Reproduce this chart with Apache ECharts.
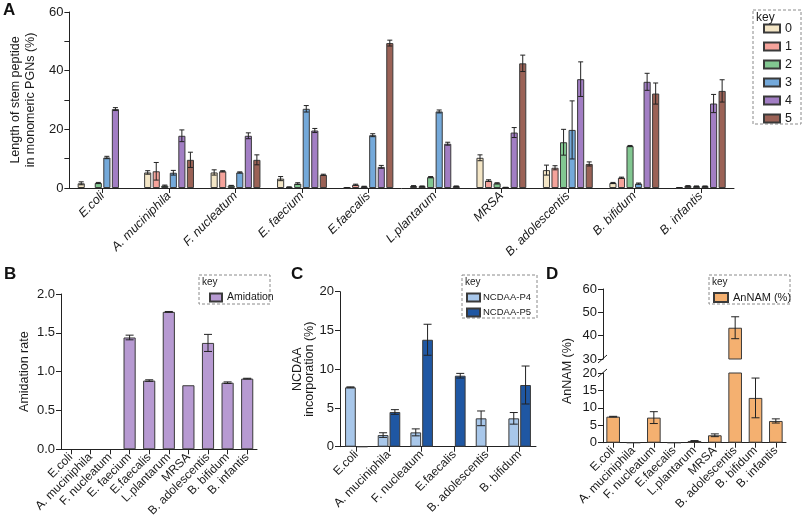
<!DOCTYPE html>
<html><head><meta charset="utf-8">
<script src="https://cdn.jsdelivr.net/npm/echarts@6/dist/echarts.min.js"></script>
<style>html,body{margin:0;padding:0;background:#fff}#c{width:803px;height:522px}</style>
</head><body><div id="c"></div><script>
// ---------- Panel A data ----------
const speciesA = ['E.coli','A. muciniphila','F. nucleatum','E. faecium','E.faecalis','L.plantarum','MRSA','B. adolescentis','B. bifidum','B. infantis'];
const lengthKeys = ['0','1','2','3','4','5'];
const len0 = [1.6,5.3,5.3,3.2,0.1,0.7,10.3,6.1,1.7,0.1];
const len0Err = [0.5,0.6,0.9,0.7,0.05,0.1,1.0,1.7,0.2,0.05];
const len1 = [null,5.7,5.7,0.3,1.1,0.6,2.5,6.9,3.5,0.7];
const len1Err = [0,3.0,0.2,0.1,0.2,0.1,0.3,0.7,0.2,0.1];
const len2 = [1.7,0.8,0.8,1.5,0.5,3.7,1.6,15.6,14.3,0.6];
const len2Err = [0.2,0.2,0.1,0.3,0.1,0.2,0.2,4.4,0.2,0.1];
const len3 = [10.4,5.2,5.3,27.0,18.0,26.1,0.2,19.8,1.5,0.6];
const len3Err = [0.4,0.8,0.2,1.1,0.5,0.5,0.05,9.9,0.2,0.1];
const len4 = [26.9,17.8,17.8,19.6,7.2,15.1,18.9,37.1,36.2,28.8];
const len4Err = [0.5,2.0,1.0,0.7,0.5,0.5,1.7,5.9,2.9,3.1];
const len5 = [null,9.6,9.6,4.5,49.4,0.6,42.5,8.2,32.2,33.1];
const len5Err = [0,2.6,1.7,0.2,1.0,0.1,2.8,0.7,3.6,3.8];
const lenTicks = [0,20,40,60];

// ---------- Panel B data ----------
const amidation = [null,null,null,1.44,0.885,1.77,0.825,1.37,0.858,0.91];
const amidationErr = [0,0,0,0.03,0.01,0.005,0,0.11,0.01,0.005];

// ---------- Panel C data ----------
const speciesC = ['E.coli','A. muciniphila','F. nucleatum','E.faecalis','B. adolescentis','B. bifidum'];
const ncdaaP4 = [7.66,1.5,1.85,null,3.66,3.66];
const ncdaaP4Err = [0.06,0.3,0.45,0,0.95,0.75];
const ncdaaP5 = [0,4.48,13.8,9.16,null,7.96];
const ncdaaP5Err = [0,0.3,2.0,0.3,0,2.45];

// ---------- Panel D data ----------
const speciesD = ['E.coli','A. muciniphila','F. nucleatum','E.faecalis','L.plantarum','MRSA','B. adolescentis','B. bifidum','B. infantis'];
const anNAM = [7.47,0,7.2,0,0.5,2.13,43.4,12.85,6.24];
const anNAMErr = [0.1,0,1.7,0,0.1,0.4,4.7,5.7,0.6];
const breakLow = 20, breakHigh = 30;

const lenVals = [len0,len1,len2,len3,len4,len5];
const lenErrs = [len0Err,len1Err,len2Err,len3Err,len4Err,len5Err];
const lenColors = ['#F4E6C6','#F5A39B','#82C791','#74A9DA','#A27EC4','#9B6256'];

const FONT = 'Arial, "Liberation Sans", sans-serif';
const TXT = '#1a1a1a';
const BORDER = '#3a3a3a';

function errSeries(xi, yi, vals, errs, idx, n, catGap, barGap, capW) {
  const data = [];
  vals.forEach((v,i)=>{ if (v!=null && errs[i]) data.push([i, v, errs[i]]); });
  return {
    type:'custom', xAxisIndex:xi, yAxisIndex:yi, z:5, silent:true, clip:true,
    encode:{x:0,y:1}, data,
    renderItem(params, api){
      const i=api.value(0), v=api.value(1), e=api.value(2);
      const band=api.size([1,0])[0];
      const gw=band*(1-catGap); const w=gw/(n+(n-1)*barGap);
      const cx=api.coord([i,v])[0] - gw/2 + idx*w*(1+barGap) + w/2;
      const yH=api.coord([i,v+e])[1], yL=api.coord([i,Math.max(v-e,0)])[1];
      const st={stroke:'#222', lineWidth:1};
      return {type:'group', children:[
        {type:'line', shape:{x1:cx,y1:yH,x2:cx,y2:yL}, style:st},
        {type:'line', shape:{x1:cx-capW/2,y1:yH,x2:cx+capW/2,y2:yH}, style:st},
        {type:'line', shape:{x1:cx-capW/2,y1:yL,x2:cx+capW/2,y2:yL}, style:st}
      ]};
    }
  };
}

function valAxis(gi, min, max, interval, extra) {
  return Object.assign({
    type:'value', gridIndex:gi, min, max, interval,
    axisLine:{show:true, lineStyle:{color:'#222', width:1}},
    axisTick:{show:true, length:5, lineStyle:{color:'#222'}},
    splitLine:{show:false},
    axisLabel:{fontSize:13, color:TXT, fontFamily:FONT, margin:6},
    nameTextStyle:{fontSize:12, color:TXT, fontFamily:FONT}
  }, extra||{});
}
function catAxis(gi, data, extra) {
  return Object.assign({
    type:'category', gridIndex:gi, data,
    axisLine:{show:true, lineStyle:{color:'#222', width:1}},
    axisTick:{show:true, alignWithLabel:true, length:5, lineStyle:{color:'#222'}},
    axisLabel:{interval:0, rotate:45, fontSize:12, color:TXT, fontFamily:FONT, margin:6}
  }, extra||{});
}

const series = [];
// Panel A
lengthKeys.forEach((k,i)=>{
  series.push({type:'bar', name:k, xAxisIndex:0, yAxisIndex:0, data:lenVals[i],
    barGap:'20%', barCategoryGap:'25%',
    itemStyle:{color:lenColors[i], borderColor:BORDER, borderWidth:1}});
});
lengthKeys.forEach((k,i)=>{
  series.push(errSeries(0,0,lenVals[i],lenErrs[i],i,6,0.25,0.2,5));
});
// Panel B
series.push({type:'bar', name:'Amidation', xAxisIndex:1, yAxisIndex:1, data:amidation,
  barCategoryGap:'38%', itemStyle:{color:'#B79AD2', borderColor:BORDER, borderWidth:1}});
series.push(errSeries(1,1,amidation,amidationErr,0,1,0.38,0,8));
// Panel C
series.push({type:'bar', name:'NCDAA-P4', xAxisIndex:2, yAxisIndex:2, data:ncdaaP4,
  barGap:'10%', barCategoryGap:'31%', itemStyle:{color:'#A8C7EA', borderColor:BORDER, borderWidth:1}});
series.push({type:'bar', name:'NCDAA-P5', xAxisIndex:2, yAxisIndex:2, data:ncdaaP5,
  barGap:'10%', barCategoryGap:'31%', itemStyle:{color:'#1F57A3', borderColor:BORDER, borderWidth:1}});
series.push(errSeries(2,2,ncdaaP4,ncdaaP4Err,0,2,0.31,0.1,8));
series.push(errSeries(2,2,ncdaaP5,ncdaaP5Err,1,2,0.31,0.1,8));
// Panel D (broken axis: upper grid 3, lower grid 4)
const anUpper = anNAM.map(v => v > breakHigh ? v : null);
const anLower = anNAM.slice();
series.push({type:'bar', name:'AnNAM (%)', xAxisIndex:3, yAxisIndex:3, data:anUpper, clip:true,
  barCategoryGap:'33%', itemStyle:{color:'#F4B070', borderColor:BORDER, borderWidth:1}});
series.push({type:'bar', name:'AnNAM (%)', xAxisIndex:4, yAxisIndex:4, data:anLower, clip:true,
  barCategoryGap:'33%', itemStyle:{color:'#F4B070', borderColor:BORDER, borderWidth:1}});
series.push(errSeries(3,3,anUpper,anNAMErr,0,1,0.33,0,8));
series.push(errSeries(4,4,anNAM.map(v=>v<=breakLow?v:null),anNAMErr,0,1,0.33,0,8));

function keyBox(x,y,w,h,fs){
  return [
    {type:'rect', shape:{x,y,width:w,height:h}, style:{fill:'none', stroke:'#8a8a8a', lineWidth:1, lineDash:[3,2]}},
    {type:'text', x:x+3, y:y+2, style:{text:'key', fontSize:fs, fill:TXT, fontFamily:FONT}}
  ];
}
function letter(t,x,y){
  return {type:'text', x, y, style:{text:t, fontSize:17, fontWeight:'bold', fill:'#111', fontFamily:FONT}};
}

const option = {
  animation:false,
  backgroundColor:'#fff',
  textStyle:{fontFamily:FONT},
  grid:[
    {left:64, top:12, width:670, height:176},
    {left:61, top:294, width:196, height:155.3},
    {left:340, top:291.7, width:196, height:155},
    {left:603, top:289, width:183, height:70},
    {left:603, top:373, width:183, height:69.7}
  ],
  xAxis:[
    catAxis(0, speciesA, {axisLabel:{interval:0, rotate:45, fontSize:12.5, fontStyle:'italic', color:TXT, fontFamily:FONT, margin:6}}),
    catAxis(1, speciesA),
    catAxis(2, speciesC),
    catAxis(3, speciesD, {show:false}),
    catAxis(4, speciesD)
  ],
  yAxis:[
    valAxis(0, 0, 60, 10, {
      axisLabel:{fontSize:13, color:TXT, fontFamily:FONT, margin:6, formatter:v=>lenTicks.indexOf(v)>=0?String(v):''},
      name:'Length of stem peptide\nin monomeric PGNs (%)', nameLocation:'middle', nameGap:24,
      nameTextStyle:{fontSize:12.5, lineHeight:15, color:TXT, fontFamily:FONT}}),
    valAxis(1, 0, 2, 0.5, {
      axisLabel:{fontSize:13, color:TXT, fontFamily:FONT, margin:6, formatter:v=>v.toFixed(1)},
      name:'Amidation rate', nameLocation:'middle', nameGap:30,
      nameTextStyle:{fontSize:12.5, color:TXT, fontFamily:FONT}}),
    valAxis(2, 0, 20, 5, {
      name:'NCDAA\nincorporation (%)', nameLocation:'middle', nameGap:22,
      nameTextStyle:{fontSize:12.5, lineHeight:12, color:TXT, fontFamily:FONT}}),
    valAxis(3, 30, 60, 10),
    valAxis(4, 0, 20, 5)
  ],
  legend:[
    {data:lengthKeys, orient:'vertical', left:763, top:22, padding:0, icon:'rect',
     itemWidth:16, itemHeight:8, itemGap:5, textStyle:{fontSize:12.5, lineHeight:12.7, color:TXT, fontFamily:FONT}},
    {data:['Amidation'], orient:'vertical', left:209, top:292, padding:0, icon:'rect',
     itemWidth:12, itemHeight:8, textStyle:{fontSize:10.5, color:TXT, fontFamily:FONT}},
    {data:['NCDAA-P4','NCDAA-P5'], orient:'vertical', left:466, top:292, padding:0, icon:'rect',
     itemWidth:13, itemHeight:8, itemGap:4, textStyle:{fontSize:9.5, lineHeight:11, color:TXT, fontFamily:FONT, padding:[0,0,0,-2]}},
    {data:['AnNAM (%)'], orient:'vertical', left:713, top:292, padding:0, icon:'rect',
     itemWidth:14, itemHeight:9, textStyle:{fontSize:11, color:TXT, fontFamily:FONT}}
  ],
  graphic:[
    ...keyBox(753,10,48,114,12),
    ...keyBox(199,275,71,29,10),
    ...keyBox(462,275,75,43,10),
    ...keyBox(709,275,81,29,10),
    letter('A',3,2), letter('B',4,266), letter('C',291,266), letter('D',546,266),
    {type:'text', x:568, y:371, rotation:Math.PI/2, style:{text:'AnNAM (%)', fontSize:12.5, fill:TXT, fontFamily:FONT, align:'center', verticalAlign:'middle'}},
    {type:'line', shape:{x1:598,y1:363,x2:607,y2:355}, style:{stroke:'#222', lineWidth:1}},
    {type:'line', shape:{x1:598,y1:377,x2:607,y2:369}, style:{stroke:'#222', lineWidth:1}}
  ],
  series
};
const chart = echarts.init(document.getElementById('c'), null, {renderer:'canvas'});
chart.setOption(option);
</script></body></html>
